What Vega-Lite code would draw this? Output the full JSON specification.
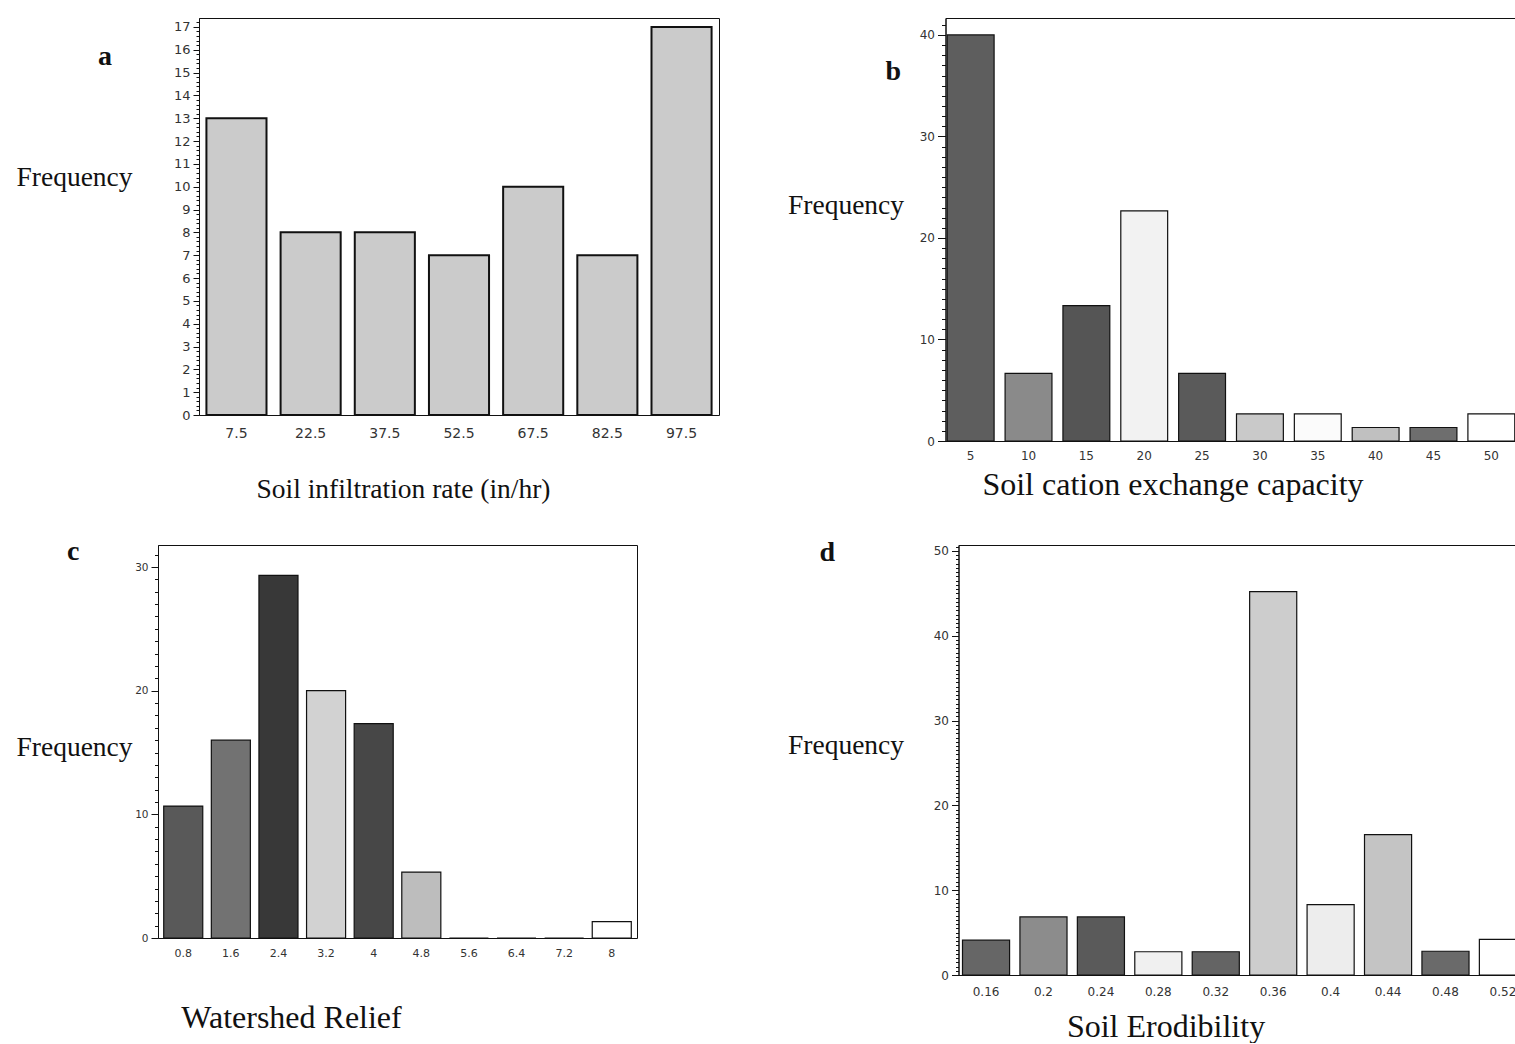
{
  "$schema": "https://vega.github.io/schema/vega-lite/v6.json",
  "background": "white",
  "padding": {"left": 15, "top": 15, "right": 0, "bottom": 0},
  "config": {
    "view": {"stroke": "#111111", "strokeWidth": 1},
    "axis": {"labelColor": "#333333", "labelFont": "DejaVu Sans", "titleFont": "Liberation Serif", "titleColor": "#111111", "titleFontWeight": "normal", "grid": false, "labelOverlap": false, "labelFlush": false},
    "axisX": {"ticks": false, "domain": false, "titleAlign": "center", "titleBaseline": "alphabetic", "labelAngle": 0, "labelBaseline": "top"},
    "axisY": {"domainColor": "#111111", "tickColor": "#111111", "titleAngle": 0, "titleAlign": "left", "titleBaseline": "middle", "labelPadding": 3},
    "title": {"font": "Liberation Serif", "fontSize": 28, "fontWeight": "bold", "color": "#111111", "anchor": "start", "frame": "group", "orient": "top", "offset": 0, "baseline": "alphabetic"}
  },
  "datasets": {
    "a": [
      {"bin": "7.5", "freq": 13}, {"bin": "22.5", "freq": 8}, {"bin": "37.5", "freq": 8},
      {"bin": "52.5", "freq": 7}, {"bin": "67.5", "freq": 10}, {"bin": "82.5", "freq": 7},
      {"bin": "97.5", "freq": 17}
    ],
    "b": [
      {"bin": "5", "freq": 40}, {"bin": "10", "freq": 6.67}, {"bin": "15", "freq": 13.33},
      {"bin": "20", "freq": 22.67}, {"bin": "25", "freq": 6.67}, {"bin": "30", "freq": 2.67},
      {"bin": "35", "freq": 2.67}, {"bin": "40", "freq": 1.33}, {"bin": "45", "freq": 1.33},
      {"bin": "50", "freq": 2.67}
    ],
    "c": [
      {"bin": "0.8", "freq": 10.67}, {"bin": "1.6", "freq": 16}, {"bin": "2.4", "freq": 29.33},
      {"bin": "3.2", "freq": 20}, {"bin": "4", "freq": 17.33}, {"bin": "4.8", "freq": 5.33},
      {"bin": "5.6", "freq": 0}, {"bin": "6.4", "freq": 0}, {"bin": "7.2", "freq": 0},
      {"bin": "8", "freq": 1.33}
    ],
    "d": [
      {"bin": "0.16", "freq": 4.11}, {"bin": "0.2", "freq": 6.85}, {"bin": "0.24", "freq": 6.85},
      {"bin": "0.28", "freq": 2.74}, {"bin": "0.32", "freq": 2.74}, {"bin": "0.36", "freq": 45.21},
      {"bin": "0.4", "freq": 8.3}, {"bin": "0.44", "freq": 16.55}, {"bin": "0.48", "freq": 2.8},
      {"bin": "0.52", "freq": 4.2}
    ]
  },
  "spacing": 34,
  "center": true,
  "resolve": {"scale": {"color": "independent"}},
  "vconcat": [
    {
      "spacing": 66.5,
      "resolve": {"scale": {"color": "independent"}},
      "hconcat": [
        {
          "data": {"name": "a"},
          "width": 520, "height": 397,
          "title": {"text": "a", "dx": -101, "dy": 59},
          "mark": {"type": "bar", "color": "#cbcbcb", "stroke": "#111111", "strokeWidth": 2},
          "encoding": {
            "x": {"field": "bin", "type": "ordinal", "sort": null,
              "scale": {"paddingInner": 0.19, "paddingOuter": 0.1},
              "axis": {"title": "Soil infiltration rate (in/hr)", "titleFontSize": 27.5, "titleX": 204, "titleY": 82, "labelFontSize": 14, "labelPadding": 11}},
            "y": {"field": "freq", "type": "quantitative",
              "scale": {"domain": [0, 17.39], "nice": false, "zero": true},
              "axis": {"title": "Frequency", "titleFontSize": 27.5, "titleX": -183, "titleY": 159, "labelFontSize": 13,
                "values": [0,0.2,0.4,0.6,0.8,1,1.2,1.4,1.6,1.8,2,2.2,2.4,2.6,2.8,3,3.2,3.4,3.6,3.8,4,4.2,4.4,4.6,4.8,5,5.2,5.4,5.6,5.8,6,6.2,6.4,6.6,6.8,7,7.2,7.4,7.6,7.8,8,8.2,8.4,8.6,8.8,9,9.2,9.4,9.6,9.8,10,10.2,10.4,10.6,10.8,11,11.2,11.4,11.6,11.8,12,12.2,12.4,12.6,12.8,13,13.2,13.4,13.6,13.8,14,14.2,14.4,14.6,14.8,15,15.2,15.4,15.6,15.8,16,16.2,16.4,16.6,16.8,17,17.2],
                "labelExpr": "abs(datum.value - round(datum.value)) < 0.001 ? format(round(datum.value), 'd') : ''",
                "tickSize": {"condition": {"test": "abs(datum.value - round(datum.value)) < 0.001", "value": 6}, "value": 3}}}
          }
        },
        {
          "data": {"name": "b"},
          "width": 571, "height": 423,
          "title": {"text": "b", "dx": -60, "dy": 72},
          "mark": {"type": "bar", "stroke": "#111111", "strokeWidth": 1.2},
          "encoding": {
            "x": {"field": "bin", "type": "ordinal", "sort": null,
              "scale": {"paddingInner": 0.19, "paddingOuter": 0.03},
              "axis": {"title": "Soil cation exchange capacity", "titleFontSize": 32, "titleX": 227, "titleY": 53, "labelFontSize": 12, "labelPadding": 9}},
            "y": {"field": "freq", "type": "quantitative",
              "scale": {"domain": [0, 41.67], "nice": false, "zero": true},
              "axis": {"title": "Frequency", "titleFontSize": 27.5, "titleX": -158, "titleY": 187, "labelFontSize": 12,
                "values": [0,1,2,3,4,5,6,7,8,9,10,11,12,13,14,15,16,17,18,19,20,21,22,23,24,25,26,27,28,29,30,31,32,33,34,35,36,37,38,39,40,41],
                "labelExpr": "datum.value % 10 === 0 ? format(datum.value, 'd') : ''",
                "tickSize": {"condition": {"test": "datum.value % 10 === 0", "value": 8}, "value": 4}}},
            "color": {"field": "bin", "type": "nominal", "legend": null,
              "scale": {"domain": ["5","10","15","20","25","30","35","40","45","50"],
                "range": ["#5e5e5e","#8a8a8a","#555555","#f2f2f2","#5a5a5a","#c9c9c9","#fbfbfb","#c0c0c0","#6e6e6e","#ffffff"]}}
          }
        }
      ]
    },
    {
      "spacing": 148.5,
      "resolve": {"scale": {"color": "independent"}},
      "hconcat": [
        {
          "data": {"name": "c"},
          "width": 479, "height": 393,
          "title": {"text": "c", "dx": -91, "dy": 25},
          "mark": {"type": "bar", "stroke": "#111111", "strokeWidth": 1.2},
          "encoding": {
            "x": {"field": "bin", "type": "ordinal", "sort": null,
              "scale": {"paddingInner": 0.18, "paddingOuter": 0.12},
              "axis": {"title": "Watershed Relief", "titleFontSize": 32, "titleX": 133, "titleY": 89, "labelFontSize": 11, "labelPadding": 9}},
            "y": {"field": "freq", "type": "quantitative",
              "scale": {"domain": [0, 31.78], "nice": false, "zero": true},
              "axis": {"title": "Frequency", "titleFontSize": 27.5, "titleX": -142, "titleY": 202, "labelFontSize": 10.5,
                "values": [0,1,2,3,4,5,6,7,8,9,10,11,12,13,14,15,16,17,18,19,20,21,22,23,24,25,26,27,28,29,30,31],
                "labelExpr": "datum.value % 10 === 0 ? format(datum.value, 'd') : ''",
                "tickSize": {"condition": {"test": "datum.value % 10 === 0", "value": 7}, "value": 3.5}}},
            "color": {"field": "bin", "type": "nominal", "legend": null,
              "scale": {"domain": ["0.8","1.6","2.4","3.2","4","4.8","5.6","6.4","7.2","8"],
                "range": ["#595959","#727272","#383838","#d2d2d2","#474747","#bdbdbd","#ffffff","#ffffff","#ffffff","#ffffff"]}}
          }
        },
        {
          "data": {"name": "d"},
          "width": 599, "height": 430,
          "title": {"text": "d", "dx": -139, "dy": 30},
          "mark": {"type": "bar", "stroke": "#111111", "strokeWidth": 1.2},
          "encoding": {
            "x": {"field": "bin", "type": "ordinal", "sort": null,
              "scale": {"paddingInner": 0.18, "paddingOuter": 0.305, "align": 0.114},
              "axis": {"title": "Soil Erodibility", "titleFontSize": 32, "titleX": 207, "titleY": 61, "labelFontSize": 12, "labelPadding": 11}},
            "y": {"field": "freq", "type": "quantitative",
              "scale": {"domain": [0, 50.7], "nice": false, "zero": true},
              "axis": {"title": "Frequency", "titleFontSize": 27.5, "titleX": -171, "titleY": 200, "labelFontSize": 12,
                "values": [0,0.5,1,1.5,2,2.5,3,3.5,4,4.5,5,5.5,6,6.5,7,7.5,8,8.5,9,9.5,10,10.5,11,11.5,12,12.5,13,13.5,14,14.5,15,15.5,16,16.5,17,17.5,18,18.5,19,19.5,20,20.5,21,21.5,22,22.5,23,23.5,24,24.5,25,25.5,26,26.5,27,27.5,28,28.5,29,29.5,30,30.5,31,31.5,32,32.5,33,33.5,34,34.5,35,35.5,36,36.5,37,37.5,38,38.5,39,39.5,40,40.5,41,41.5,42,42.5,43,43.5,44,44.5,45,45.5,46,46.5,47,47.5,48,48.5,49,49.5,50,50.5],
                "labelExpr": "datum.value % 10 === 0 ? format(datum.value, 'd') : ''",
                "tickSize": {"condition": {"test": "datum.value % 10 === 0", "value": 7}, "value": 3}}},
            "color": {"field": "bin", "type": "nominal", "legend": null,
              "scale": {"domain": ["0.16","0.2","0.24","0.28","0.32","0.36","0.4","0.44","0.48","0.52"],
                "range": ["#666666","#8c8c8c","#5a5a5a","#f0f0f0","#646464","#cdcdcd","#ededed","#c4c4c4","#6a6a6a","#ffffff"]}}
          }
        }
      ]
    }
  ]
}
